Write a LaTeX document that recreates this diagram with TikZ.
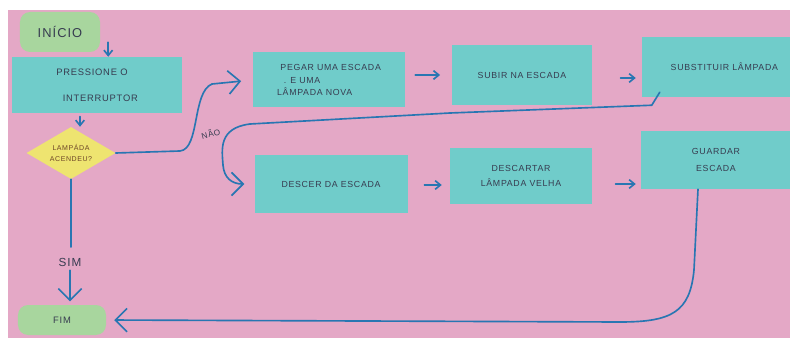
\documentclass[tikz,border=0pt]{standalone}
\usepackage{fontspec}
\setmainfont[LetterSpace=8]{Liberation Sans}
\usetikzlibrary{shapes.geometric,arrows.meta}
\definecolor{papel}{RGB}{228,168,198}
\definecolor{ciano}{RGB}{112,204,202}
\definecolor{verde}{RGB}{168,214,158}
\definecolor{amarelo}{RGB}{238,228,112}
\definecolor{caneta}{RGB}{40,118,178}
\definecolor{tinta}{RGB}{55,60,80}
\tikzset{
  cartao/.style={fill=ciano, inner sep=0pt, align=center, font=\fontsize{7.5}{9}\selectfont, text=tinta},
  pilula/.style={fill=verde, rounded corners=3mm, inner sep=0pt, text=tinta},
  losango/.style={diamond, fill=amarelo, inner sep=0pt, aspect=1.7, font=\fontsize{6}{7}\selectfont, text={rgb,255:red,110;green,70;blue,40}},
  traco/.style={caneta, line width=1.4pt, line cap=round, line join=round},
  seta/.style={traco, -{Straight Barb[length=1.6mm,width=2.6mm]}},
  setona/.style={traco, -{Straight Barb[length=3.5mm,width=7mm]}}
}
\begin{document}
\begin{tikzpicture}[x=0.3mm,y=-0.3mm]
    \useasboundingbox (0,0) rectangle (790,338);
    \fill[white] (0,0) rectangle (790,338);
    \fill[papel] (8,10) rectangle (790,338);
    \node[pilula, minimum width=24mm, minimum height=12mm, font=\fontsize{11}{13}\selectfont] (inicio) at (60,32) {INÍCIO};
    \node[cartao, minimum width=51mm, minimum height=16.8mm, font=\fontsize{8}{9}\selectfont] (pressione) at (97,85) {PRESSIONE O\hspace*{3mm}\\[13pt]\hspace*{2mm}INTERRUPTOR};
    \node[losango, minimum width=26.7mm, minimum height=15.6mm, align=center] (acendeu) at (71,153) {LAMPÁDA\\[3pt]ACENDEU?};
    \node[pilula, minimum width=26.4mm, minimum height=9mm, font=\fontsize{8}{9}\selectfont] (fim) at (62,320) {FIM};
    \node[cartao, minimum width=45.6mm, minimum height=16.5mm, align=left] (pegar) at (329,80) {\hspace*{1mm}PEGAR UMA ESCADA\\[2pt]\hspace*{2mm}. E UMA\\[2pt]LÂMPADA NOVA};
    \node[cartao, minimum width=42mm, minimum height=18mm] (subir) at (522,75) {SUBIR NA ESCADA};
    \node[cartao, minimum width=44.4mm, minimum height=18mm] (substituir) at (716,67) {\hspace*{5mm}SUBSTITUIR LÂMPADA};
    \node[cartao, minimum width=45.9mm, minimum height=17.1mm] (descer) at (331,184) {DESCER DA ESCADA};
    \node[cartao, minimum width=42.6mm, minimum height=16.8mm] (descartar) at (521,176) {DESCARTAR\\[4pt]LÂMPADA VELHA};
    \node[cartao, minimum width=45mm, minimum height=17.4mm] (guardar) at (716,160) {GUARDAR\\[6pt]ESCADA};
    \node[text=tinta, font=\fontsize{10}{12}\selectfont] (sim) at (70,262) {SIM};
    \draw[seta] ([xshift=2.4mm,yshift=3mm]inicio.south east) -- ([xshift=2.4mm]inicio.south east |- pressione.north);
    \draw[seta] ([xshift=-5.1mm,yshift=-1mm]pressione.south) -- ([xshift=-5.1mm]pressione.south |- acendeu.north);
    \draw[traco] (acendeu.south) -- ([yshift=2mm]acendeu.south |- sim.north);
    \draw[setona] (sim.south) -- ([yshift=1mm]sim.south |- fim.north);
    \draw[setona, shorten >=3.5mm] (acendeu.east) -- (180,151) .. controls (200,149) and (192,92) .. (212,84)
        node[pos=0.3, anchor=west, xshift=1.5mm, text=tinta, font=\fontsize{7}{8}\selectfont, rotate=15] {NÃO} -- (pegar.west);
    \draw[seta, shorten <=3mm, shorten >=3.5mm] (pegar.east |- subir.east) -- (subir.west);
    \draw[seta, shorten <=8.5mm, shorten >=1.8mm] ([yshift=-0.9mm]subir.east) -- ([yshift=-0.9mm]subir.east -| substituir.west);
    \draw[setona, shorten >=3mm] ([xshift=5.4mm,yshift=1.5mm]substituir.south west) -- ([xshift=3mm,yshift=-2.4mm]substituir.south west)
        -- (450,113) -- (250,124) .. controls (218,128) and (222,150) .. (223,165) .. controls (224,178) and (232,184) .. (descer.west);
    \draw[seta, shorten <=5mm, shorten >=2.4mm] ([yshift=-0.3mm]descer.east) -- ([yshift=-0.3mm]descer.east -| descartar.west);
    \draw[seta, shorten <=7mm, shorten >=1.5mm] ([yshift=-2.4mm]descartar.east) -- ([yshift=-2.4mm]descartar.east -| guardar.west);
    \draw[setona, shorten >=2.4mm] ([xshift=-5.4mm]guardar.south) -- (694,270) .. controls (690,312) and (672,322) .. (620,322)
        -- (fim.east);
\end{tikzpicture}
\end{document}
